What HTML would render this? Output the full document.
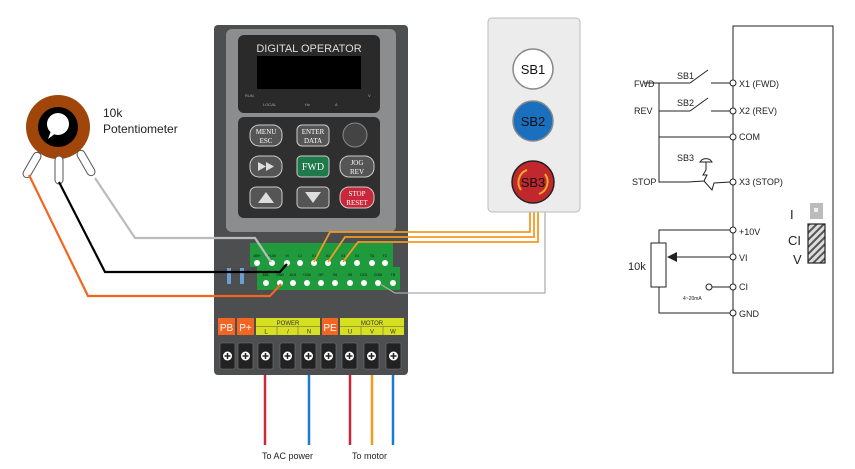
<!DOCTYPE html>
<html><head><meta charset="utf-8"><style>body{margin:0;background:#fff}svg{display:block}text{font-family:"Liberation Sans",sans-serif}</style></head><body>
<svg width="855" height="469" viewBox="0 0 855 469" xmlns="http://www.w3.org/2000/svg">
<defs><pattern id="h" width="5" height="5" patternUnits="userSpaceOnUse" patternTransform="rotate(45)"><rect width="5" height="5" fill="#ddd"/><rect width="2" height="5" fill="#555"/></pattern></defs>
<rect x="214" y="25" width="194" height="350" rx="4" fill="#4d4e50"/>
<rect x="226" y="29" width="170" height="203" rx="6" fill="#8c8d8f"/>
<rect x="238" y="35" width="142" height="78" rx="6" fill="#2a2a2b"/>
<text x="309" y="52" font-size="11" fill="#ddd" text-anchor="middle">DIGITAL OPERATOR</text>
<rect x="257" y="56" width="104" height="33" fill="#000"/>
<text x="245" y="97" font-size="4" fill="#aaa">RUN</text><text x="263" y="106" font-size="4" fill="#aaa">LOCAL</text><text x="305" y="106" font-size="4" fill="#aaa">Hz</text><text x="335" y="106" font-size="4" fill="#aaa">A</text><text x="368" y="97" font-size="4" fill="#aaa">V</text>
<rect x="238" y="117" width="142" height="101" rx="6" fill="#2f2f30"/>
<g stroke="#ccc" stroke-width="1">
<rect x="250" y="125" width="32" height="21" rx="9" fill="#555"/>
<rect x="297" y="125" width="32" height="21" rx="5" fill="#555"/>
<circle cx="355" cy="135" r="12" fill="#444" stroke="#888"/>
<rect x="250" y="156" width="32" height="21" rx="9" fill="#555"/>
<rect x="297" y="156" width="32" height="21" rx="4" fill="#1e7a4a"/>
<rect x="340" y="156" width="34" height="21" rx="9" fill="#555"/>
<rect x="250" y="187" width="32" height="21" rx="6" fill="#555"/>
<rect x="297" y="187" width="32" height="21" rx="4" fill="#555"/>
<rect x="340" y="187" width="34" height="21" rx="9" fill="#c8283a"/>
</g>
<g font-size="7" fill="#fff" text-anchor="middle" style="font-family:'Liberation Serif',serif">
<text style="font-family:'Liberation Serif',serif" x="266" y="134">MENU</text><text style="font-family:'Liberation Serif',serif" x="266" y="143">ESC</text>
<text style="font-family:'Liberation Serif',serif" x="313" y="134">ENTER</text><text style="font-family:'Liberation Serif',serif" x="313" y="143">DATA</text>
<text style="font-family:'Liberation Serif',serif" x="313" y="170" font-size="10">FWD</text>
<text style="font-family:'Liberation Serif',serif" x="357" y="165">JOG</text><text style="font-family:'Liberation Serif',serif" x="357" y="174">REV</text>
<text style="font-family:'Liberation Serif',serif" x="357" y="196">STOP</text><text style="font-family:'Liberation Serif',serif" x="357" y="205">RESET</text>
</g>
<polygon points="258,162 266,166.5 258,171" fill="#ddd"/><polygon points="266,162 274,166.5 266,171" fill="#ddd"/>
<polygon points="266,192 274,203 258,203" fill="#ddd"/><polygon points="305,192 321,192 313,203" fill="#ddd"/>
<rect x="250" y="243" width="143" height="24" fill="#1f9a3c"/>
<rect x="257" y="267" width="143" height="23" fill="#1f9a3c"/>
<g font-size="3.5" fill="#111" text-anchor="middle">
<text x="257" y="257">485+</text><text x="272" y="257">+10V</text><text x="287" y="257">VI</text><text x="300" y="257">CI</text><text x="314" y="257">X1</text><text x="328" y="257">X2</text><text x="343" y="257">X3</text><text x="357" y="257">X4</text><text x="372" y="257">TA</text><text x="385" y="257">TC</text>
<text x="266" y="276">485-</text><text x="280" y="276">GND</text><text x="293" y="276">AO1</text><text x="307" y="276">+24V</text><text x="321" y="276">OP</text><text x="335" y="276">X6</text><text x="350" y="276">X5</text><text x="364" y="276">DO1</text><text x="378" y="276">COM</text><text x="393" y="276">TB</text>
</g>
<g fill="#fff">
<circle cx="257" cy="263" r="3"/><circle cx="272" cy="263" r="3"/><circle cx="287" cy="263" r="3"/><circle cx="300" cy="263" r="3"/><circle cx="314" cy="263" r="3"/><circle cx="328" cy="263" r="3"/><circle cx="343" cy="263" r="3"/><circle cx="357" cy="263" r="3"/><circle cx="372" cy="263" r="3"/><circle cx="385" cy="263" r="3"/>
<circle cx="266" cy="283" r="3"/><circle cx="280" cy="283" r="3"/><circle cx="293" cy="283" r="3"/><circle cx="307" cy="283" r="3"/><circle cx="321" cy="283" r="3"/><circle cx="335" cy="283" r="3"/><circle cx="350" cy="283" r="3"/><circle cx="364" cy="283" r="3"/><circle cx="378" cy="283" r="3"/><circle cx="393" cy="283" r="3"/>
</g>
<rect x="227" y="268" width="4" height="16" fill="#6a9fd0"/><rect x="240" y="268" width="4" height="16" fill="#6a9fd0"/>
<rect x="218" y="318" width="17" height="17" fill="#f26522"/><text x="226.5" y="331" font-size="10" fill="#fff" text-anchor="middle">PB</text>
<rect x="237" y="318" width="17" height="17" fill="#f26522"/><text x="245.5" y="331" font-size="10" fill="#fff" text-anchor="middle">P+</text>
<rect x="256" y="318" width="64" height="17" fill="#d6e021"/>
<rect x="322" y="318" width="16" height="17" fill="#f26522"/><text x="330" y="331" font-size="10" fill="#fff" text-anchor="middle">PE</text>
<rect x="340" y="318" width="64" height="17" fill="#d6e021"/>
<g stroke="#555" stroke-width="0.5"><line x1="256" y1="326.5" x2="320" y2="326.5"/><line x1="340" y1="326.5" x2="404" y2="326.5"/><line x1="277" y1="326.5" x2="277" y2="335"/><line x1="298" y1="326.5" x2="298" y2="335"/><line x1="361" y1="326.5" x2="361" y2="335"/><line x1="383" y1="326.5" x2="383" y2="335"/></g>
<g font-size="6" fill="#333" text-anchor="middle"><text x="288" y="325">POWER</text><text x="372" y="325">MOTOR</text><text x="266" y="333.5">L</text><text x="288" y="333.5">/</text><text x="309" y="333.5">N</text><text x="350" y="333.5">U</text><text x="372" y="333.5">V</text><text x="393" y="333.5">W</text></g>
<g fill="#222" stroke="#777" stroke-width="0.6">
<rect x="220" y="343" width="15" height="26" rx="2"/><rect x="238" y="343" width="15" height="26" rx="2"/><rect x="258" y="343" width="15" height="26" rx="2"/><rect x="280" y="343" width="15" height="26" rx="2"/><rect x="301" y="343" width="15" height="26" rx="2"/><rect x="321" y="343" width="15" height="26" rx="2"/><rect x="342" y="343" width="15" height="26" rx="2"/><rect x="364" y="343" width="15" height="26" rx="2"/><rect x="386" y="343" width="15" height="26" rx="2"/>
</g>
<g fill="#fff"><circle cx="227.5" cy="356" r="4.5"/><circle cx="245.5" cy="356" r="4.5"/><circle cx="265.5" cy="356" r="4.5"/><circle cx="287.5" cy="356" r="4.5"/><circle cx="308.5" cy="356" r="4.5"/><circle cx="328.5" cy="356" r="4.5"/><circle cx="349.5" cy="356" r="4.5"/><circle cx="371.5" cy="356" r="4.5"/><circle cx="393.5" cy="356" r="4.5"/></g>
<g stroke="#222" stroke-width="1.5"><path d="M224.5 356h6M227.5 353v6M242.5 356h6M245.5 353v6M262.5 356h6M265.5 353v6M284.5 356h6M287.5 353v6M305.5 356h6M308.5 353v6M325.5 356h6M328.5 353v6M346.5 356h6M349.5 353v6M368.5 356h6M371.5 353v6M390.5 356h6M393.5 353v6"/></g>
<g stroke-width="2.5" fill="none"><line x1="265" y1="375" x2="265" y2="445" stroke="#c8283a"/><line x1="309" y1="375" x2="309" y2="445" stroke="#1c7ad0"/><line x1="350" y1="375" x2="350" y2="445" stroke="#c8283a"/><line x1="372" y1="375" x2="372" y2="445" stroke="#f59a23"/><line x1="393" y1="375" x2="393" y2="445" stroke="#1c7ad0"/></g>
<text x="262" y="459" font-size="9" fill="#222">To AC power</text><text x="352" y="459" font-size="9" fill="#222">To motor</text>
<circle cx="58" cy="127" r="32" fill="#a0460a"/><circle cx="58" cy="127" r="20" fill="#000"/><circle cx="58" cy="124" r="11" fill="#fff"/><path d="M51 131 L48 139 L56 133Z" fill="#fff"/>
<g fill="#fff" stroke="#555" stroke-width="1"><rect x="-4" y="-14" width="8" height="28" rx="4" transform="translate(32,165) rotate(30)"/><rect x="-4" y="-14" width="8" height="28" rx="4" transform="translate(59,170)"/><rect x="-4" y="-14" width="8" height="28" rx="4" transform="translate(86,163) rotate(-30)"/></g>
<text x="103" y="117" font-size="12" fill="#222">10k</text><text x="103" y="133" font-size="12" fill="#222">Potentiometer</text>
<g fill="none" stroke-width="2.2">
<polyline points="29,175 88,296 270,296 281,284" stroke="#f26522"/>
<polyline points="59,182 105,272 280,272 287,264" stroke="#000"/>
<polyline points="95,178 135,238 255,238 271,262" stroke="#bbb"/>
<polyline points="380,284 395,293 545,293 545,212" stroke="#aaa" stroke-width="1.2"/>
<g stroke="#f59a23" stroke-width="1.8"><polyline points="530,212 530,232 330,232 314,262"/><polyline points="534,212 534,237 345,237 328,262"/><polyline points="538,212 538,242 358,242 343,262"/></g>
</g>
<rect x="488" y="18" width="92" height="194" rx="4" fill="#ececec" stroke="#bbb"/>
<circle cx="533" cy="69" r="20" fill="#fff" stroke="#888" stroke-width="1.5"/><text x="533" y="74" font-size="13" text-anchor="middle" fill="#111">SB1</text>
<circle cx="533" cy="121" r="20" fill="#1a6fbf" stroke="#888" stroke-width="1.5"/><text x="533" y="126" font-size="13" text-anchor="middle" fill="#111">SB2</text>
<circle cx="533" cy="182" r="21" fill="#c0282d" stroke="#222" stroke-width="1.5"/><path d="M521 190 A13 13 0 0 1 527 170 M545 174 A13 13 0 0 1 539 194" stroke="#f5a623" stroke-width="2" fill="none"/><text x="533" y="187" font-size="13" text-anchor="middle" fill="#111">SB3</text>
<g stroke="#222" stroke-width="1" fill="none">
<rect x="733" y="26" width="100" height="347"/>
<polyline points="659,83 659,182 688,182"/><line x1="645" y1="83" x2="690" y2="83"/><line x1="659" y1="111" x2="690" y2="111"/><line x1="659" y1="137" x2="730" y2="137"/>
<line x1="690" y1="83" x2="708" y2="70"/><line x1="711" y1="83" x2="730" y2="83"/>
<line x1="690" y1="111" x2="708" y2="98"/><line x1="711" y1="111" x2="730" y2="111"/>
<path d="M700 162 A7 7 0 0 1 712 162 Z"/><polyline points="706,162 706,170 703,175 707,175 704,181 688,182"/><polyline points="704,181 712,190 714,183 730,182"/>
<polyline points="659,243 659,230 730,230"/><rect x="651" y="243" width="15" height="44"/><polyline points="659,287 659,313 730,313"/><line x1="676" y1="257" x2="730" y2="257"/><line x1="712" y1="287" x2="730" y2="287"/>
<circle cx="733" cy="83" r="3" fill="#fff"/><circle cx="733" cy="111" r="3" fill="#fff"/><circle cx="733" cy="137" r="3" fill="#fff"/><circle cx="733" cy="182" r="3" fill="#fff"/><circle cx="733" cy="230" r="3" fill="#fff"/><circle cx="733" cy="257" r="3" fill="#fff"/><circle cx="733" cy="287" r="3" fill="#fff"/><circle cx="733" cy="313" r="3" fill="#fff"/><circle cx="709" cy="287" r="3" fill="#fff"/>
</g>
<polygon points="667,257 677,252 677,262" fill="#222"/>
<g font-size="9" fill="#222"><text x="634" y="87">FWD</text><text x="634" y="114">REV</text><text x="632" y="185">STOP</text><text x="677" y="79">SB1</text><text x="677" y="106">SB2</text><text x="677" y="161">SB3</text>
<text x="739" y="87">X1 (FWD)</text><text x="739" y="114">X2 (REV)</text><text x="739" y="140">COM</text><text x="739" y="185">X3 (STOP)</text><text x="739" y="235">+10V</text><text x="739" y="261">VI</text><text x="739" y="290">CI</text><text x="739" y="317">GND</text>
<text x="628" y="270" font-size="11">10k</text><text x="683" y="300" font-size="5">4~20mA</text></g>
<rect x="810" y="203" width="13" height="16" fill="#bbb"/><rect x="814" y="208" width="4" height="4" fill="#eee"/>
<rect x="808" y="224" width="17" height="39" fill="url(#h)" stroke="#222" stroke-width="1.2"/>
<g font-size="13" fill="#222"><text x="790" y="219">I</text><text x="788" y="245">CI</text><text x="793" y="264">V</text></g>
</svg>
</body></html>
